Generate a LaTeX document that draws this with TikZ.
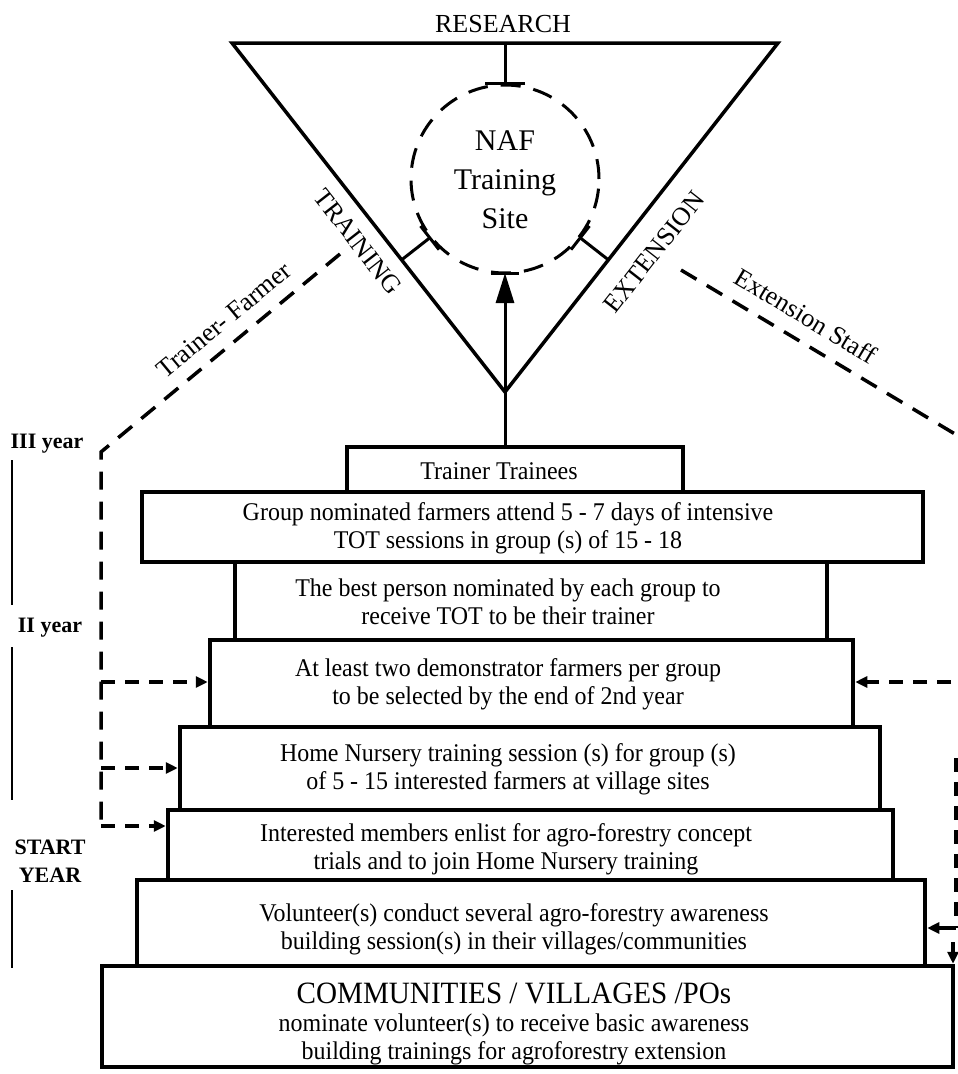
\documentclass[tikz,border=0pt]{standalone}
\usepackage{fontspec}
\setmainfont{Liberation Serif}
\newfontfamily\boxfont[FakeStretch=0.94]{Liberation Serif}
\usetikzlibrary{arrows.meta,calc}
\begin{document}
\begin{tikzpicture}[x=1pt,y=-1pt,
  box/.style={draw, line width=4.5pt, inner sep=0pt},
  btxt/.style={align=center, font=\boxfont\fontsize{25.5}{28}\selectfont, inner sep=0pt},
  big/.style={font=\fontsize{26}{30}\selectfont, inner sep=0pt},
  lbl/.style={font=\fontsize{26}{30}\selectfont, inner sep=0pt},
  yr/.style={font=\bfseries\fontsize{22}{28}\selectfont, inner sep=0pt, align=center},
  tri/.style={line width=3.5pt, line join=miter},
  tee/.style={line width=3pt, -{Bar[width=40pt]}},
  dsh/.style={line width=3.5pt, dash pattern=on 18pt off 12pt},
  darr/.style={line width=3.5pt, dash pattern=on 14pt off 10pt, -{Triangle[length=12pt,width=11pt]}},
  sarr/.style={line width=3.5pt, -{Triangle[length=12pt,width=11pt]}},
  tl/.style={line width=1.5pt}
]
\fill[white] (0,0) rectangle (958,1074);
\useasboundingbox (0,0) rectangle (958,1074);

% triangle
\coordinate (tl) at (232,43);
\coordinate (tr) at (778,43);
\coordinate (tv) at (505,392);
\draw[tri] (tl) -- (tr) -- (tv) -- cycle;

% NAF circle
\node[circle, draw, line width=3pt, dash pattern=on 20pt off 13pt, minimum size=188pt, inner sep=0pt, outer sep=0pt] (naf) at (505,179) {};
\node[align=center, font=\fontsize{30}{39}\selectfont, inner sep=0pt] (naft) at (505,180) {NAF\\Training\\Site};

% labels on triangle
\node[big] (res) at (503,24) {RESEARCH};
\node[big, rotate=-52] (trn) at (358,242) {TRAINING};
\node[big, rotate=52] (ext) at (654,252) {EXTENSION};

% tee connectors
\coordinate (fr) at ($(tl)!(naf.center)!(tr)$);
\coordinate (fl) at ($(tl)!(naf.center)!(tv)$);
\coordinate (fe) at ($(tr)!(naf.center)!(tv)$);
\draw[tee] (fr) -- (naf);
\draw[tee, -{Bar[width=30pt]}] (fl) -- (naf);
\draw[tee, -{Bar[width=30pt]}] (fe) -- (naf);

% boxes
\node[box, minimum width=336pt, minimum height=45pt] (b1) at (515,469.5) {};
\node[box, minimum width=781pt, minimum height=70pt] (b2) at (532.5,527) {};
\node[box, minimum width=592pt, minimum height=78pt] (b3) at (531,601) {};
\node[box, minimum width=643pt, minimum height=87pt] (b4) at (531.5,683.5) {};
\node[box, minimum width=700pt, minimum height=83pt] (b5) at (530,768.5) {};
\node[box, minimum width=725pt, minimum height=70pt] (b6) at (530.5,845) {};
\node[box, minimum width=788pt, minimum height=86pt] (b7) at (531,923) {};
\node[box, minimum width=851pt, minimum height=101pt] (b8) at (527.5,1016.5) {};

\node[btxt] (t1) at (499,471) {Trainer Trainees};
\node[btxt] (t2) at (508,528) {Group nominated farmers attend 5 - 7 days of intensive\\TOT sessions in group (s) of 15 - 18};
\node[btxt] (t3) at (508,602) {The best person nominated by each group to\\receive TOT to be their trainer};
\node[btxt] (t4) at (508,684) {At least two demonstrator farmers per group\\to be selected by the end of 2nd year};
\node[btxt] (t5) at (508,769) {Home Nursery training session (s) for group (s)\\of 5 - 15 interested farmers at village sites};
\node[btxt] (t6) at (506,849) {Interested members enlist for agro-forestry concept\\trials and to join Home Nursery training};
\node[btxt] (t7) at (514,929) {Volunteer(s) conduct several agro-forestry awareness\\building session(s) in their villages/communities};
\node[btxt] (t8) at (514,1024) {{\fontsize{31}{34}\selectfont COMMUNITIES / VILLAGES /POs}\\nominate volunteer(s) to receive basic awareness\\building trainings for agroforestry extension};

% main arrow
\draw[line width=3pt, -{Triangle[length=30pt,width=18pt]}] (b1.north -| naf) -- (naf.south);
\draw[line width=3pt] ($(naf.south)+(-14,0)$) -- ($(naf.south)+(14,0)$);

% Trainer-Farmer path (left)
\coordinate (tfA) at (340,254);
\coordinate (tfB) at (101,452);
\coordinate (lb1) at (101,682);
\coordinate (lb2) at (101,768);
\coordinate (lb3) at (101,826);
\draw[dsh] (tfA) -- (tfB) -- (lb3);
\draw[darr] (lb1) -- (b4.west |- lb1);
\draw[darr] (lb2) -- (b5.west |- lb2);
\draw[darr] (lb3) -- (b6.west |- lb3);
\node[lbl, rotate=39.6] (tfl) at (224,320) {Trainer- Farmer};

% Extension Staff path (right)
\coordinate (esA) at (681,270);
\coordinate (esB) at (975,446);
\draw[dsh] (esA) -- (esB);
\node[lbl, rotate=-31] (esl) at (806,316) {Extension Staff};
\coordinate (rb1) at (975,682);
\draw[darr] (rb1) -- (b4.east |- rb1);
\coordinate (rv1) at (956,758);
\coordinate (rv2) at (956,928);
\draw[dsh, dash pattern=on 14pt off 10pt] (rv1) -- (rv2);
\draw[sarr] (rv2) -- (b7.east |- rv2);
\coordinate (rd1) at (953,942);
\draw[sarr] (rd1) -- (rd1 |- b8.north);

% timeline
\node[yr] (y3) at (47,444) {III year};
\node[yr] (y2) at (50,628) {II year};
\node[yr] (y1) at (50,861) {START\\YEAR};
\draw[tl] (12,460) -- (12,605);
\draw[tl] (12,647) -- (12,800);
\draw[tl] (12,890) -- (12,968);
\end{tikzpicture}
\end{document}
